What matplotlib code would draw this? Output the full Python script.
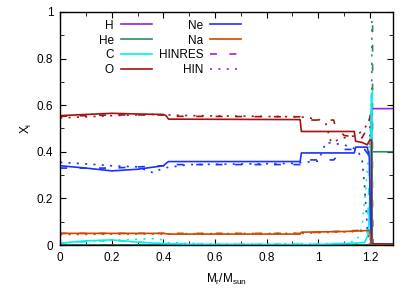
import numpy as np
from matplotlib import pyplot as plt
from matplotlib.ticker import MultipleLocator

plt.rcParams['lines.scale_dashes'] = False
plt.rcParams['font.family'] = ['Liberation Sans', 'DejaVu Sans']
plt.rcParams['mathtext.fontset'] = 'custom'
plt.rcParams['mathtext.rm'] = 'Liberation Sans'
plt.rcParams['font.size'] = 8.5

COLORS = {'H': '#9a20e0', 'He': '#2e8b57', 'C': '#00f0f0', 'O': '#a01414',
          'Ne': '#1a32ff', 'Na': '#cc4a00'}

# reference model (solid)
h_x = [0, 1.206, 1.207, 1.29]
h_y = [0.0, 0.0, 0.585, 0.585]
he_x = [0, 1.206, 1.207, 1.29]
he_y = [0.0, 0.0, 0.40, 0.40]
c_x = [0, 0.1, 0.2, 0.3, 0.4, 0.5, 1.0, 1.18, 1.195, 1.203, 1.207, 1.21, 1.29]
c_y = [0.008, 0.018, 0.022, 0.012, 0.006, 0.003, 0.002, 0.01, 0.05, 0.3, 0.65, 0.0, 0.0]
o_x = [0, 0.1, 0.2, 0.3, 0.4, 0.41, 0.42, 0.93, 0.935, 1.14, 1.145, 1.17, 1.19,
       1.2, 1.207, 1.208, 1.29]
o_y = [0.555, 0.56, 0.565, 0.562, 0.56, 0.555, 0.54, 0.538, 0.487, 0.487, 0.445,
       0.44, 0.43, 0.45, 0.45, 0.005, 0.005]
ne_x = [0, 0.1, 0.2, 0.3, 0.4, 0.41, 0.42, 0.93, 0.935, 1.14, 1.145, 1.19, 1.198,
        1.205, 1.29]
ne_y = [0.34, 0.33, 0.318, 0.325, 0.34, 0.35, 0.358, 0.358, 0.395, 0.395, 0.42,
        0.42, 0.38, 0.002, 0.002]
na_x = [0, 0.4, 0.42, 0.93, 0.935, 1.1, 1.19, 1.2, 1.205, 1.29]
na_y = [0.05, 0.05, 0.047, 0.047, 0.055, 0.058, 0.062, 0.062, 0.001, 0.001]

# HINRES (dashed)
hinres_o_x = [0, 0.2, 0.4, 0.45, 0.93, 0.94, 1.06, 1.065, 1.1, 1.17, 1.19, 1.205, 1.212]
hinres_o_y = [0.552, 0.558, 0.558, 0.552, 0.55, 0.536, 0.536, 0.515, 0.47, 0.46,
              0.5, 0.57, 0.0]
hinres_ne_x = [0, 0.2, 0.4, 0.45, 0.93, 0.94, 1.06, 1.1, 1.18, 1.2, 1.21]
hinres_ne_y = [0.33, 0.33, 0.34, 0.345, 0.345, 0.365, 0.365, 0.41, 0.41, 0.38, 0.0]
hinres_na_x = [0, 0.4, 0.93, 1.0, 1.2, 1.21]
hinres_na_y = [0.05, 0.05, 0.05, 0.055, 0.065, 0.0]
hinres_c_x = [0, 0.2, 0.4, 0.6, 1.15, 1.19, 1.205, 1.212]
hinres_c_y = [0.008, 0.02, 0.006, 0.002, 0.005, 0.05, 0.5, 0.7]
hinres_he_x = [0, 1.21, 1.211]
hinres_he_y = [0.0, 0.0, 0.98]

# HIN (dotted)
hin_o_x = [0, 0.1, 0.2, 0.35, 0.5, 0.93, 1.0, 1.03, 1.05, 1.1, 1.15, 1.18, 1.2, 1.208]
hin_o_y = [0.545, 0.55, 0.555, 0.56, 0.555, 0.55, 0.54, 0.52, 0.44, 0.46, 0.47,
           0.5, 0.54, 0.0]
hin_ne_x = [0, 0.1, 0.2, 0.3, 0.36, 0.4, 0.5, 0.9, 1.0, 1.03, 1.1, 1.15, 1.17,
            1.18, 1.19, 1.195, 1.2]
hin_ne_y = [0.355, 0.348, 0.34, 0.335, 0.31, 0.33, 0.345, 0.35, 0.36, 0.44, 0.43,
            0.41, 0.37, 0.25, 0.08, 0.02, 0.0]
hin_na_x = [0, 0.4, 0.93, 1.2, 1.205]
hin_na_y = [0.045, 0.048, 0.05, 0.06, 0.0]
hin_c_x = [0, 0.2, 0.3, 0.38, 0.42, 0.6, 1.1, 1.15, 1.17, 1.185, 1.2, 1.208]
hin_c_y = [0.01, 0.02, 0.025, 0.028, 0.01, 0.004, 0.006, 0.02, 0.08, 0.25, 0.45, 0.65]
hin_he_x = [0, 1.207, 1.208]
hin_he_y = [0.0, 0.0, 0.98]

DASH = (0, (5, 9))
DOT = (0, (1.5, 4.5))

fig = plt.figure(figsize=(4.15, 2.97), dpi=100)
ax = fig.add_axes([0.145, 0.175, 0.802, 0.785])

lw = 1.2
ax.plot(hinres_c_x, hinres_c_y, color=COLORS['C'], lw=lw, ls=DASH)
ax.plot(hin_c_x, hin_c_y, color=COLORS['C'], lw=lw, ls=DOT)
ax.plot(hinres_na_x, hinres_na_y, color=COLORS['Na'], lw=lw, ls=DASH)
ax.plot(hin_na_x, hin_na_y, color=COLORS['Na'], lw=lw, ls=DOT)
ax.plot(hinres_ne_x, hinres_ne_y, color=COLORS['Ne'], lw=lw, ls=DASH)
ax.plot(hin_ne_x, hin_ne_y, color=COLORS['Ne'], lw=lw, ls=DOT)
ax.plot(hinres_o_x, hinres_o_y, color=COLORS['O'], lw=lw, ls=DASH)
ax.plot(hin_o_x, hin_o_y, color=COLORS['O'], lw=lw, ls=DOT)
ax.plot(hinres_he_x, hinres_he_y, color=COLORS['He'], lw=lw, ls=DASH)
ax.plot(hin_he_x, hin_he_y, color=COLORS['He'], lw=lw, ls=DOT)

ax.plot(h_x, h_y, color=COLORS['H'], lw=lw, label='H')
ax.plot(he_x, he_y, color=COLORS['He'], lw=lw, label='He')
ax.plot(c_x, c_y, color=COLORS['C'], lw=lw, label='C')
ax.plot(o_x, o_y, color=COLORS['O'], lw=lw, label='O')
ax.plot(ne_x, ne_y, color=COLORS['Ne'], lw=lw, label='Ne')
ax.plot(na_x, na_y, color=COLORS['Na'], lw=lw, label='Na')
ax.plot([], [], color=COLORS['H'], lw=lw, ls=DASH, label='HINRES')
ax.plot([], [], color=COLORS['H'], lw=lw, ls=DOT, label='HIN')

ax.set_xlim(0, 1.29)
ax.set_ylim(0, 1)
ax.xaxis.set_major_locator(MultipleLocator(0.2))
ax.xaxis.set_minor_locator(MultipleLocator(0.1))
ax.yaxis.set_major_locator(MultipleLocator(0.2))
ax.yaxis.set_minor_locator(MultipleLocator(0.1))
ax.xaxis.set_major_formatter(lambda v, p: '{:g}'.format(round(v, 2)))
ax.yaxis.set_major_formatter(lambda v, p: '{:g}'.format(round(v, 2)))
ax.tick_params(which='both', direction='in', top=True, right=True, labelsize=8.5)
ax.tick_params(which='major', length=4, width=0.8, pad=5)
ax.tick_params(which='minor', length=3, width=0.6)
for s in ax.spines.values():
    s.set_linewidth(1.0)

ax.set_xlabel(r'M$_\mathregular{r}$/M$_\mathregular{sun}$', labelpad=6)
ax.set_ylabel(r'X$_\mathregular{i}$', labelpad=2)

ax.legend(ncol=2, frameon=False, markerfirst=False, loc='upper center',
          bbox_to_anchor=(0.33, 1.0), handlelength=2.6, handletextpad=0.6,
          columnspacing=0.6, labelspacing=0.25, borderaxespad=0.25)

plt.savefig('out.png', dpi=100)
